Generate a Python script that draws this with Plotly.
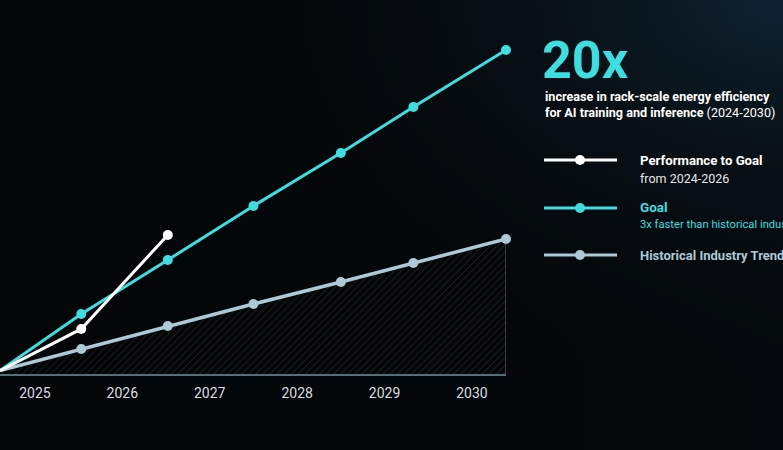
import numpy as np
import plotly.graph_objects as go

# ── data (efficiency multiple vs 2024 baseline) ──────────────────────────
years = [2025, 2026, 2027, 2028, 2029, 2030]
tick_labels = ['2025', '2026', '2027', '2028', '2029', '2030']

goal_x = [2024.60, 2025.53, 2026.52, 2027.50, 2028.50, 2029.33, 2030.39]
goal_y = [1.0, 4.36, 7.56, 10.76, 13.90, 16.62, 20.0]

perf_x = [2024.60, 2025.53, 2026.52]
perf_y = [1.0, 3.47, 9.04]

hist_x = [2024.60, 2025.53, 2026.52, 2027.50, 2028.50, 2029.33, 2030.39]
hist_y = [1.0, 2.28, 3.64, 4.95, 6.25, 7.38, 8.80]

CYAN = '#3fdce0'
WHITE = '#ffffff'
HIST = '#adc9d6'
W, H = 783, 450


def px(x):
    return x / W


def py(y):
    return 1 - y / H


fig = go.Figure()

# background glow (dark, a little teal towards the top right)
gx = np.linspace(0, 1, 40)
gy = np.linspace(0, 1, 40)
GX, GY = np.meshgrid(gx, gy)
glow = np.clip(1.0 - np.hypot(1 - GX, 1 - GY) * 1.15, 0, 1) ** 2 + 0.25 * GX
fig.add_trace(go.Heatmap(
    x=gx, y=gy, z=glow, zsmooth='best', showscale=False, hoverinfo='skip',
    colorscale=[[0, '#040608'], [0.3, '#060b0f'], [0.6, '#0a151d'], [1, '#0e2230']],
    xaxis='x', yaxis='y'
))


def series(x, y, col, width, **kw):
    return go.Scatter(
        x=x, y=y, mode='lines+markers',
        line=dict(color=col, width=width),
        marker=dict(size=[0] + [10] * (len(x) - 1), color=col, opacity=1,
                    line=dict(width=0)),
        cliponaxis=False, xaxis='x2', yaxis='y2', hoverinfo='skip', **kw
    )


# historical trend with hatched area
fig.add_trace(series(
    hist_x, hist_y, HIST, 3.5, fill='tozeroy',
    fillcolor='rgba(0,0,0,0.25)',
    fillpattern=dict(shape='/', fgcolor='rgba(130,150,160,0.35)',
                     bgcolor='rgba(0,0,0,0.25)', size=5, solidity=0.12,
                     fillmode='replace'),
))
fig.add_trace(go.Scatter(
    x=[hist_x[-1], hist_x[-1]], y=[0.8, hist_y[-1]], mode='lines',
    line=dict(color='rgba(150,170,180,0.6)', width=1),
    xaxis='x2', yaxis='y2', hoverinfo='skip'
))
fig.add_trace(series(goal_x, goal_y, CYAN, 3))
fig.add_trace(series(perf_x, perf_y, WHITE, 3))

# ── legend glyphs (drawn by hand to match the slide) ─────────────────────
shapes = []
for ly, col in [(160, WHITE), (208, CYAN), (255, HIST)]:
    shapes.append(dict(type='line', xref='paper', yref='paper',
                       x0=px(544), x1=px(617), y0=py(ly), y1=py(ly),
                       line=dict(color=col, width=3)))
    shapes.append(dict(type='circle', xref='paper', yref='paper',
                       x0=px(575), x1=px(585), y0=py(ly + 5), y1=py(ly - 5),
                       fillcolor=col, line=dict(width=0)))

FONT = 'Roboto'
ann = [
    dict(text='<b>20x</b>', x=px(540), y=py(61), font=dict(size=52, color=CYAN)),
    dict(text='<b>increase in rack-scale energy efficiency</b>', x=px(543), y=py(96),
         font=dict(size=12.6, color=WHITE)),
    dict(text='<b>for AI training and inference</b> (2024-2030)', x=px(543), y=py(112),
         font=dict(size=12.6, color=WHITE)),
    dict(text='<b>Performance to Goal</b>', x=px(638), y=py(160), font=dict(size=13.2, color=WHITE)),
    dict(text='from 2024-2026', x=px(638), y=py(178), font=dict(size=12.5, color='#e6e6e6')),
    dict(text='<b>Goal</b>', x=px(638), y=py(207), font=dict(size=13.5, color=CYAN)),
    dict(text='3x faster than historical industry trend', x=px(638), y=py(224),
         font=dict(size=11.2, color=CYAN)),
    dict(text='<b>Historical Industry Trend</b>', x=px(638), y=py(255),
         font=dict(size=13, color=HIST)),
]
for a in ann:
    a.update(xref='paper', yref='paper', xanchor='left', yanchor='middle',
             showarrow=False)
    a['font']['family'] = FONT

fig.update_layout(
    template='none',
    width=W, height=H,
    margin=dict(l=0, r=0, t=0, b=0, pad=0),
    paper_bgcolor='#05080b', plot_bgcolor='rgba(0,0,0,0)',
    showlegend=False,
    font=dict(family=FONT, color='#d8dde0'),
    xaxis=dict(domain=[0, 1], range=[0, 1], visible=False, fixedrange=True),
    yaxis=dict(domain=[0, 1], range=[0, 1], visible=False, fixedrange=True),
    xaxis2=dict(domain=[0, px(506)], range=[2024.60, 2030.39], anchor='y2',
                tickvals=years, ticktext=tick_labels, showgrid=False, zeroline=False,
                showline=True, linecolor='#527077', linewidth=1.5,
                ticks='outside', ticklen=5, tickcolor='rgba(0,0,0,0)',
                tickfont=dict(size=14, color='#d8dde0', family=FONT)),
    yaxis2=dict(domain=[1 - 374 / H, 1 - 50 / H], range=[0.8, 20], anchor='x2',
                visible=False, showgrid=False, zeroline=False),
    shapes=shapes,
    annotations=ann,
)

fig.write_html('out.html', config={'displayModeBar': False},
               post_script="document.body.style.margin='0';")
